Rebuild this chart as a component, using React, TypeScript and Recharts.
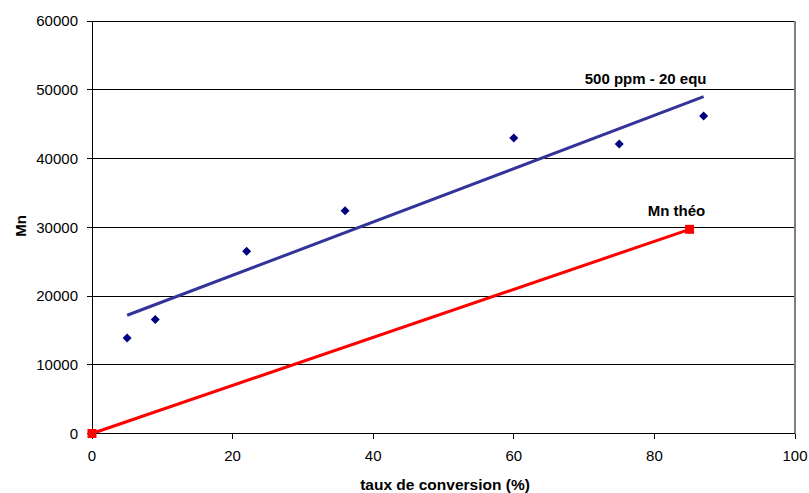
import React from 'react';
import { ComposedChart, XAxis, YAxis, CartesianGrid, Line, Scatter, ReferenceLine, Label } from 'recharts';

const xTicks = [0, 20, 40, 60, 80, 100];
const yTicks = [0, 10000, 20000, 30000, 40000, 50000, 60000];

const conversion = [5, 9, 22, 36, 60, 75, 87];
const mnMeasured = [13900, 16600, 26500, 32400, 43000, 42100, 46200];

const trendX = [5, 87];
const trendY = [17200, 49000];

const theoX = [0, 85];
const theoY = [0, 29700];

const seriesName = '500 ppm - 20 equ';
const theoName = 'Mn théo';
const xTitle = 'taux de conversion (%)';
const yTitle = 'Mn';

const measured = conversion.map((x, i) => ({ x, y: mnMeasured[i] }));
const trend = trendX.map((x, i) => ({ x, y: trendY[i] }));
const theo = theoX.map((x, i) => ({ x, y: theoY[i] }));

const FONT = '"Liberation Sans", Arial, sans-serif';

const Diamond = (props: any) => {
  const { cx, cy } = props;
  const r = 4.5;
  return <polygon points={`${cx},${cy - r} ${cx + r},${cy} ${cx},${cy + r} ${cx - r},${cy}`} fill="#000080" />;
};

const SquareDot = (props: any) => {
  const { cx, cy, index } = props;
  return <rect key={`sq-${index}`} x={cx - 4.5} y={cy - 4.5} width={9} height={9} fill="#FF0000" />;
};

const endLabel = (text: string, count: number, dx: number, dy: number) => (props: any) => {
  const { x, y, index } = props;
  if (index !== count - 1) return null;
  return (
    <text key={`lbl-${text}`} x={x + dx} y={y + dy} textAnchor="middle" dominantBaseline="central"
      fontFamily={FONT} fontSize={15} fontWeight="bold" fill="#000">
      {text}
    </text>
  );
};

export default function App() {
  return (
    <div style={{ position: 'absolute', left: 0, top: 0, width: 809, height: 493, background: '#fff' }}>
      <ComposedChart width={809} height={493} margin={{ top: 21, right: 14, bottom: 0, left: 0 }}>
        <CartesianGrid vertical={false} stroke="#000" strokeWidth={1} shapeRendering="crispEdges" />
        <XAxis
          type="number"
          dataKey="x"
          domain={[0, 100]}
          ticks={xTicks}
          height={59.5}
          tickSize={5}
          tickMargin={12}
          axisLine={{ stroke: '#000', shapeRendering: 'crispEdges' }}
          tickLine={{ stroke: '#000', shapeRendering: 'crispEdges' }}
          tick={{ fill: '#000', fontSize: 15, fontFamily: FONT }}
          interval={0}
        >
          <Label
            content={() => (
              <text x={445} y={490} textAnchor="middle" fontFamily={FONT} fontSize={15.5} fontWeight="bold" fill="#000">
                {xTitle}
              </text>
            )}
          />
        </XAxis>
        <YAxis
          type="number"
          dataKey="y"
          domain={[0, 60000]}
          ticks={yTicks}
          width={92}
          tickSize={5}
          tickMargin={9}
          axisLine={{ stroke: '#000', shapeRendering: 'crispEdges' }}
          tickLine={{ stroke: '#000', shapeRendering: 'crispEdges' }}
          tick={{ fill: '#000', fontSize: 15, fontFamily: FONT }}
          interval={0}
        >
          <Label
            content={() => (
              <text x={20} y={226} transform="rotate(-90, 20, 226)" textAnchor="middle" dominantBaseline="central"
                fontFamily={FONT} fontSize={15} fontWeight="bold" fill="#000">
                {yTitle}
              </text>
            )}
          />
        </YAxis>
        <ReferenceLine x={100} stroke="#808080" strokeWidth={2} shapeRendering="crispEdges" />
        <Line
          data={trend}
          dataKey="y"
          stroke="#333399"
          strokeWidth={3}
          dot={false}
          isAnimationActive={false}
          label={endLabel(seriesName, trend.length, -58, -18)}
        />
        <Line
          data={theo}
          dataKey="y"
          stroke="#FF0000"
          strokeWidth={3}
          dot={SquareDot}
          activeDot={false}
          isAnimationActive={false}
          label={endLabel(theoName, theo.length, -13, -19)}
        />
        <Scatter data={measured} dataKey="y" shape={Diamond} isAnimationActive={false} />
      </ComposedChart>
    </div>
  );
}
